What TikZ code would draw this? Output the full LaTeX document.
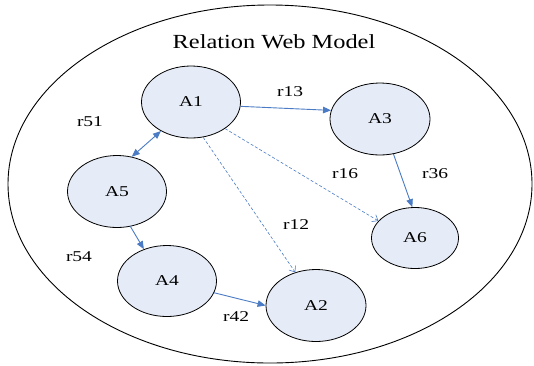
\documentclass[tikz,border=0pt]{standalone}
\usepackage{fontspec}
\setmainfont{Liberation Serif}[FakeStretch=1.3]
\newfontfamily\titlefont{Liberation Serif}[FakeStretch=1.22]
\usetikzlibrary{arrows.meta,shapes.geometric}
\definecolor{nodefill}{HTML}{E6ECF7}
\definecolor{linkblue}{HTML}{4A7BC4}
\tikzset{
  entity/.style={ellipse, draw=black, line width=0.8pt, fill=nodefill,
    inner sep=0pt, font=\fontsize{15}{15}\selectfont},
  rel/.style={font=\fontsize{15}{15}\selectfont, inner sep=0pt},
  solidlink/.style={draw=linkblue, line width=0.9pt,
    -{Triangle[length=8pt,width=6.5pt]}},
  duallink/.style={draw=linkblue, line width=0.9pt,
    {Triangle[length=8pt,width=6.5pt]}-{Triangle[length=8pt,width=6.5pt]}},
  dashlink/.style={draw=linkblue, line width=0.6pt, dash pattern=on 3pt off 2pt,
    -{Straight Barb[length=5pt,width=8pt,line width=0.6pt]}}
}
\begin{document}
\begin{tikzpicture}[x=1pt,y=-1pt]
\useasboundingbox (0,0) rectangle (534,365);
% enclosing model boundary
\draw[line width=0.9pt] (270,184) ellipse [x radius=262, y radius=179];
\node[inner sep=0pt, font=\titlefont\fontsize{20}{20}\selectfont] (title) at (274,42) {Relation Web Model};

% entities
\node[entity, minimum width=99pt, minimum height=72pt] (A1) at (191,102) {A1};
\node[entity, minimum width=100pt, minimum height=72pt] (A3) at (380,119) {A3};
\node[entity, minimum width=99pt, minimum height=72pt] (A5) at (117,191.5) {A5};
\node[entity, minimum width=99pt, minimum height=71pt] (A4) at (167,281) {A4};
\node[entity, minimum width=87pt, minimum height=61pt] (A6) at (415,238) {A6};
\node[entity, minimum width=100pt, minimum height=72pt] (A2) at (316,305.5) {A2};

% relations
\draw[solidlink] (A1.355) -- (A3.170);
\draw[solidlink] (A3.291) -- (A6.95);
\draw[duallink] (A1.224) -- (A5.67);
\draw[solidlink] (A5.291) -- (A4.126);
\draw[solidlink] (A4.346) -- (A2.180);
\draw[dashlink] (A1.289) -- (A2.122);
\draw[dashlink] (A1.322) -- (A6.155);

% relation labels
\node[rel] (l13) at (290,92) {r13};
\node[rel] (l16) at (345,174) {r16};
\node[rel] (l36) at (435,174) {r36};
\node[rel] (l12) at (296,225) {r12};
\node[rel] (l51) at (90,122) {r51};
\node[rel] (l54) at (79,257) {r54};
\node[rel] (l42) at (236,317) {r42};
\end{tikzpicture}
\end{document}
